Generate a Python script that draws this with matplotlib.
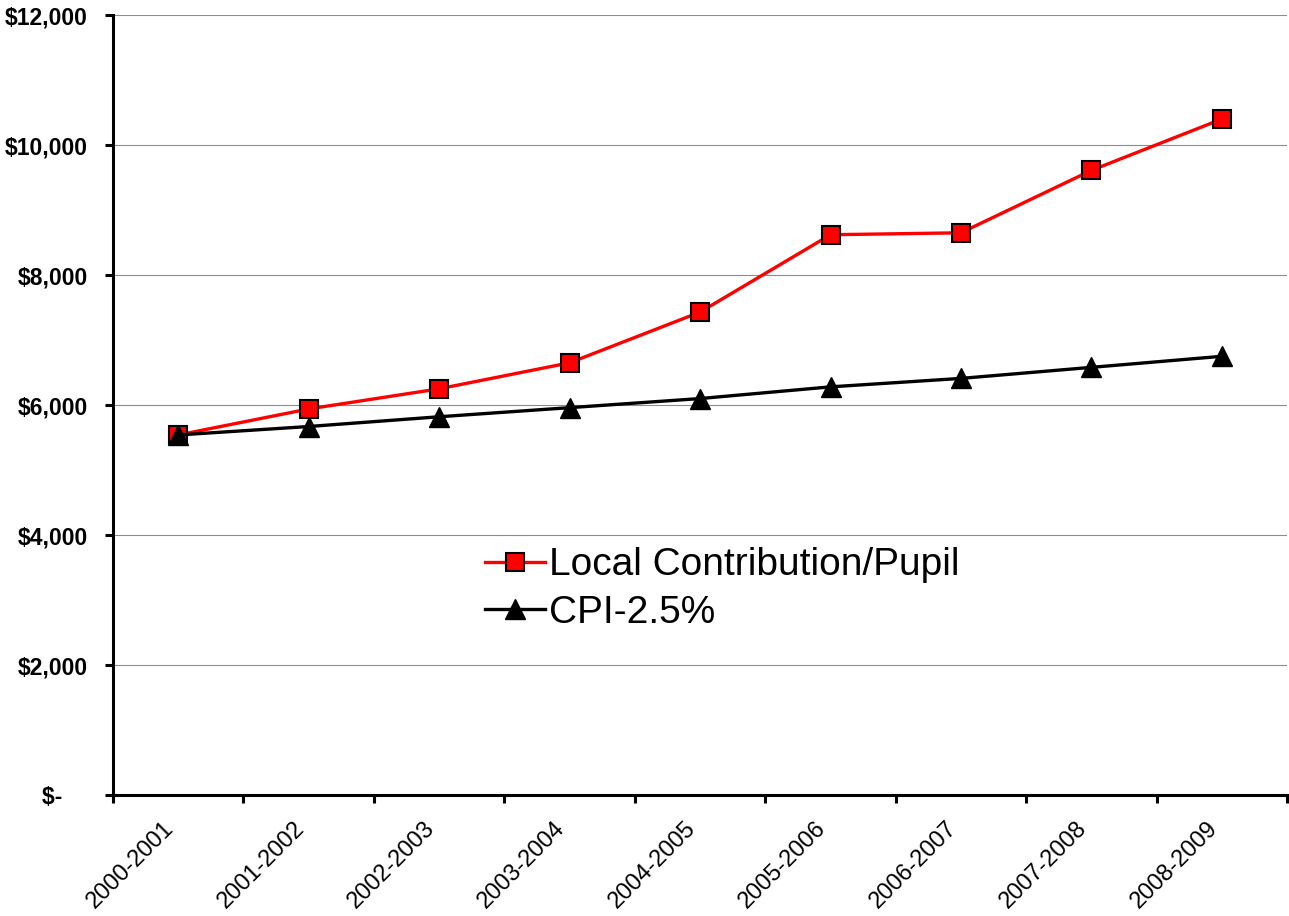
import numpy as np
import matplotlib
matplotlib.use("Agg")
import matplotlib.pyplot as plt
from matplotlib.ticker import FixedLocator, FuncFormatter

plt.rcParams['font.family'] = ['Liberation Sans', 'DejaVu Sans']

years = ["2000-2001", "2001-2002", "2002-2003", "2003-2004", "2004-2005",
         "2005-2006", "2006-2007", "2007-2008", "2008-2009"]
local = [5540, 5940, 6250, 6650, 7430, 8620, 8650, 9610, 10400]
cpi = [5540, 5670, 5820, 5960, 6100, 6280, 6410, 6580, 6750]

fig = plt.figure(figsize=(12.89, 9.16), dpi=100)
ax = fig.add_axes([0.0877, 0.132, 0.9108, 0.8516])

x = np.arange(len(years))
l1, = ax.plot(x, local, color="red", lw=2.4, marker="s", ms=12.5,
              mfc="red", mec="black", mew=1.5, label="Local Contribution/Pupil", zorder=3)
l2, = ax.plot(x, cpi, color="black", lw=2.4, marker="^", ms=14,
              mfc="black", mec="black", label="CPI-2.5%", zorder=3)

ax.set_xlim(-0.5, len(years) - 0.5)
ax.set_ylim(0, 12000)
ax.set_yticks(np.arange(0, 12001, 2000))

def money(v, pos):
    if v == 0:
        return "$-    "
    return "${:,.0f}".format(v)

ax.yaxis.set_major_formatter(FuncFormatter(money))
ax.yaxis.grid(True, color="#8c8c8c", lw=0.8)
ax.set_axisbelow(True)

# boundary ticks between categories, labels centred on each category
ax.xaxis.set_major_locator(FixedLocator(np.arange(-0.5, len(years), 1.0)))
ax.xaxis.set_minor_locator(FixedLocator(x))
ax.xaxis.set_major_formatter(FuncFormatter(lambda v, p: ""))
ax.set_xticks(x, minor=True)
ax.set_xticklabels(years, minor=True, rotation=45, ha="right", va="bottom",
                   rotation_mode="anchor", fontsize=17)
ax.tick_params(axis="x", which="minor", length=0, pad=27)
ax.tick_params(axis="x", which="major", length=6, width=2.2, direction="out")
ax.tick_params(axis="y", length=6, width=2.2, direction="out", pad=12)
for t in ax.get_yticklabels():
    t.set_fontsize(16.5)
    t.set_fontweight("bold")

for s in ["top", "right"]:
    ax.spines[s].set_visible(False)
for s in ["left", "bottom"]:
    ax.spines[s].set_linewidth(2.2)
    ax.spines[s].set_color("black")

leg = ax.legend(handles=[l1, l2], loc="center left",
                bbox_to_anchor=(485 / 1289, 1 - 589 / 916),
                bbox_transform=fig.transFigure, frameon=False, fontsize=28,
                handlelength=1.55, handletextpad=0.1, labelspacing=0.3,
                borderpad=0, borderaxespad=0)

fig.savefig("out.png", dpi=100)
